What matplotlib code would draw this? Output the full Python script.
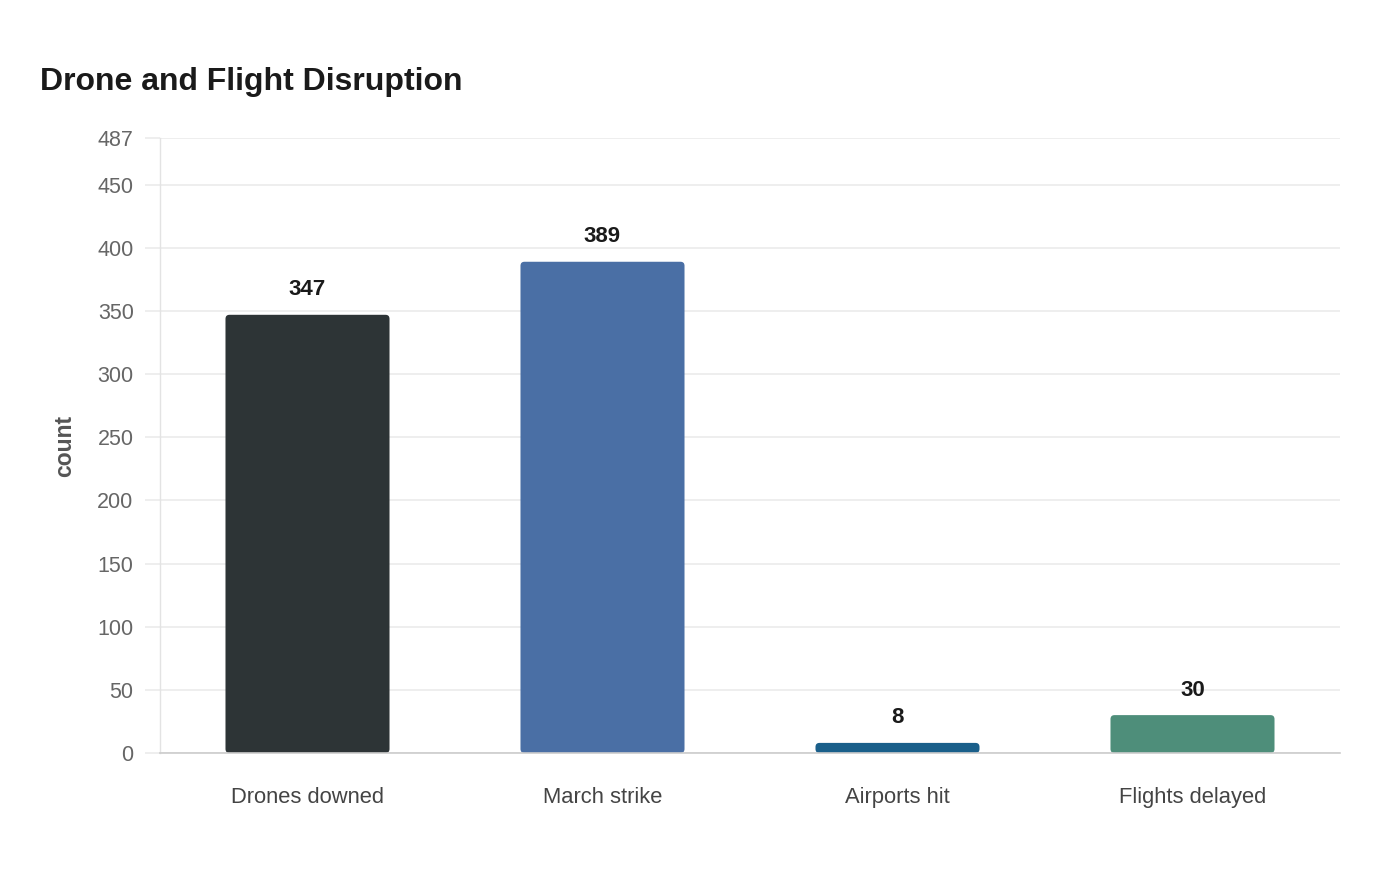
import matplotlib
matplotlib.use("Agg")
import matplotlib.pyplot as plt
from matplotlib.patches import FancyBboxPatch

categories = ["Drones downed", "March strike", "Airports hit", "Flights delayed"]
values = [347, 389, 8, 30]
colors = ["#2d3436", "#4a6fa5", "#1a5f8a", "#4e8e7a"]
yticks = [0, 50, 100, 150, 200, 250, 300, 350, 400, 450, 487]
title = "Drone and Flight Disruption"
ylabel = "count"

plt.rcParams['font.family'] = ['Liberation Sans', 'DejaVu Sans']

fig = plt.figure(figsize=(14, 8.8), dpi=100)
ax = fig.add_axes([160/1400, 1-753/880, 1180/1400, 615/880])

ymax = 487
ax.set_xlim(-0.5, len(categories) - 0.5)
ax.set_ylim(0, ymax)

width = 0.556
px_x = (len(categories)) / 1180
px_y = ymax / 615
r = 4 * px_x
for i, (v, c) in enumerate(zip(values, colors)):
    p = FancyBboxPatch((i - width/2, 0), width, v,
                       boxstyle=f"round,pad=0,rounding_size={r}",
                       mutation_aspect=px_y/px_x,
                       facecolor=c, edgecolor="none", zorder=3)
    ax.add_patch(p)
    ax.text(i, v + 25*px_y, str(v), ha="center", va="center",
            fontsize=16, fontweight="bold", color="#1a1a1a", zorder=4)

ax.set_yticks(yticks)
ax.set_yticklabels([str(t) for t in yticks])
ax.set_xticks(range(len(categories)))
ax.set_xticklabels(categories)

ax.grid(axis="y", color="#ebebeb", linewidth=1.2, zorder=0)
ax.set_axisbelow(True)
for s in ["top", "right"]:
    ax.spines[s].set_visible(False)
ax.spines["left"].set_color("#e3e3e3")
ax.spines["left"].set_linewidth(1.0)
ax.spines["bottom"].set_color("#cccccc")
ax.spines["bottom"].set_linewidth(1.2)
ax.spines["bottom"].set_zorder(5)

ax.tick_params(axis="y", length=11, width=1.2, color="#ebebeb",
               labelsize=15.5, labelcolor="#666666", pad=8)
ax.tick_params(axis="x", length=0, labelsize=15.8, labelcolor="#444444", pad=24.5)

ax.set_ylabel(ylabel, fontsize=16.5, fontweight="bold", color="#555555", labelpad=15)

fig.text(40/1400, 1-82/880, title, ha="left", va="center",
         fontsize=23, fontweight="bold", color="#1a1a1a")

fig.savefig("out.png", dpi=100, facecolor="white")
